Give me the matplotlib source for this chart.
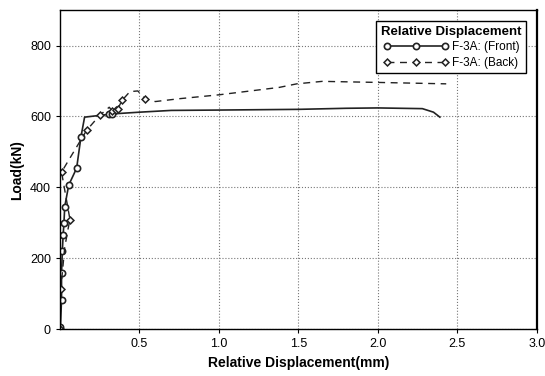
import matplotlib
matplotlib.use("Agg")
from matplotlib import pyplot as plt

plt.rcParams['font.family'] = ['Liberation Sans', 'DejaVu Sans']

# F-3A front (solid line, circle markers)
front_disp = [0.0, 0.003, 0.01, 0.01, 0.015, 0.02, 0.025, 0.03, 0.055, 0.105,
              0.132, 0.155, 0.31, 0.33, 0.36, 0.5, 0.7, 1.0, 1.5, 1.8, 2.0,
              2.28, 2.35, 2.39]
front_load = [0, 6, 83, 157, 220, 265, 298, 345, 406, 454,
              542, 598, 606, 607, 608, 612, 617, 618, 620, 623, 624,
              622, 612, 598]
front_marks = [0, 1, 2, 3, 4, 5, 6, 7, 8, 9, 10, 12, 13]

# F-3A back (dashed line, diamond markers)
back_disp = [0.0, 0.005, 0.03, 0.05, 0.063, 0.01, 0.168, 0.25, 0.31, 0.33,
             0.35, 0.365, 0.39, 0.44, 0.49, 0.535, 0.6, 0.75, 1.0, 1.38,
             1.49, 1.65, 2.0, 2.43]
back_load = [0, 112, 230, 280, 309, 443, 561, 603, 626, 615,
             618, 622, 645, 670, 672, 650, 642, 650, 661, 682,
             692, 699, 696, 692]
back_marks = [0, 1, 4, 5, 6, 7, 9, 10, 11, 12, 15]

fig, ax = plt.subplots(figsize=(5.45, 3.76), dpi=100)
fig.subplots_adjust(left=0.110, right=0.985, bottom=0.125, top=0.973)

ax.plot(front_disp, front_load, '-', color='#222222', lw=1.2,
        marker='o', markersize=4.5, markerfacecolor='white',
        markeredgecolor='#222222', markeredgewidth=1.2,
        markevery=front_marks, label='F-3A: (Front)')
ax.plot(back_disp, back_load, '--', color='#222222', lw=1.0,
        dashes=(5, 4), marker='D', markersize=3.5, markerfacecolor='white',
        markeredgecolor='#222222', markeredgewidth=1.1,
        markevery=back_marks, label='F-3A: (Back)')

ax.set_xlim(0, 3.0)
ax.set_ylim(0, 900)
ax.set_xticks([0.5, 1.0, 1.5, 2.0, 2.5, 3.0])
ax.set_xticklabels(['0.5', '1.0', '1.5', '2.0', '2.5', '3.0'])
ax.set_yticks([0, 200, 400, 600, 800])
ax.grid(True, color='#777777', linestyle=':', linewidth=0.8)
ax.tick_params(labelsize=9, length=3, color='black')

for s in ax.spines.values():
    s.set_color('black')
    s.set_linewidth(1.0)
ax.spines['right'].set_linewidth(1.6)

ax.set_xlabel('Relative Displacement(mm)', fontsize=10, fontweight='bold')
ax.set_ylabel('Load(kN)', fontsize=10, fontweight='bold')

leg = ax.legend(loc='upper right', title='Relative Displacement',
                numpoints=3, fontsize=8.5, title_fontsize=9.5,
                frameon=True, fancybox=False, edgecolor='black',
                framealpha=1, handlelength=5.5, borderpad=0.4,
                labelspacing=0.3, handletextpad=0.3,
                bbox_to_anchor=(0.99, 0.985))
leg.get_title().set_fontweight('bold')
leg.get_frame().set_linewidth(1.0)

fig.savefig('out.png', dpi=100)
